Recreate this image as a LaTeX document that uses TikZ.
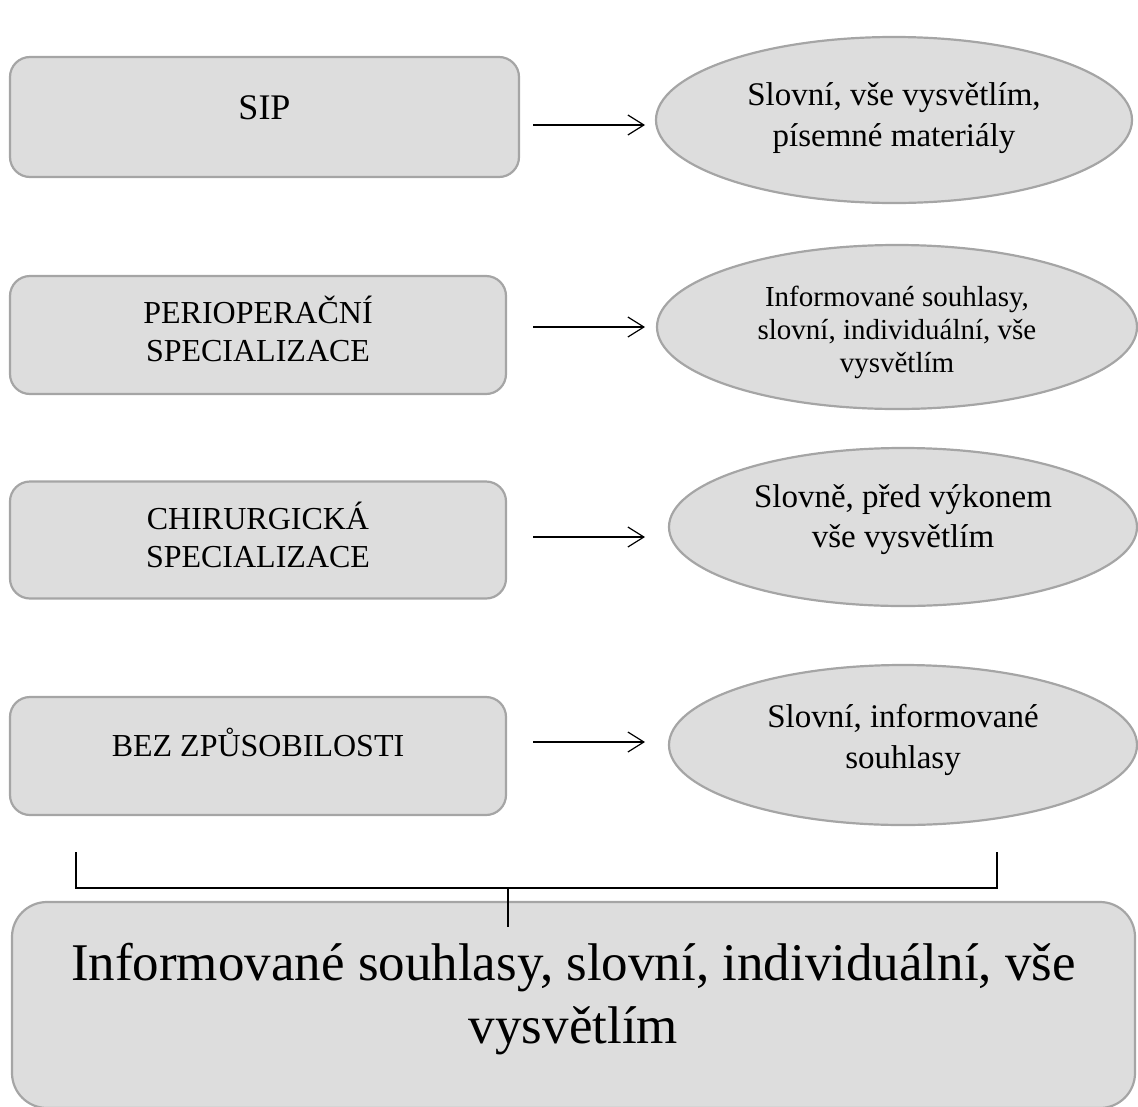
\documentclass[tikz,border=0pt]{standalone}
\usepackage{fontspec}
\setmainfont{Liberation Serif}
\usetikzlibrary{shapes.geometric,arrows.meta}
\definecolor{boxfill}{HTML}{DDDDDD}
\definecolor{boxline}{HTML}{A5A5A5}

\begin{document}
\begin{tikzpicture}[x=1pt,y=-1pt,
    box/.style={draw=boxline,fill=boxfill,line width=2.2pt,rounded corners=20pt,inner sep=0pt},
    oval/.style={ellipse,draw=boxline,fill=boxfill,line width=2.2pt,inner sep=0pt},
    txt/.style={align=center,inner sep=0pt},
    arr/.style={-{Straight Barb[length=16pt,width=20pt]},line width=1.2pt}]
    \useasboundingbox (0,0) rectangle (1138,1106);
    \clip (0,0) rectangle (1138,1106);
    % left column
    \node[box,minimum width=509pt,minimum height=120pt] (sip) at (264.5,117) {};
    \node[box,minimum width=496pt,minimum height=118pt] (peri) at (258,335) {};
    \node[box,minimum width=496pt,minimum height=117pt] (chir) at (258,540) {};
    \node[box,minimum width=496pt,minimum height=118pt] (bez) at (258,756) {};
    \node[txt,font=\fontsize{36}{41}\selectfont] (sip-t) at ([yshift=9pt]sip.center) {SIP};
    \node[txt,font=\fontsize{32}{38}\selectfont] (peri-t) at ([yshift=6pt]peri.center) {PERIOPERAČNÍ\\SPECIALIZACE};
    \node[txt,font=\fontsize{32}{38}\selectfont] (chir-t) at ([yshift=5pt]chir.center) {CHIRURGICKÁ\\SPECIALIZACE};
    \node[txt,font=\fontsize{32}{38}\selectfont] (bez-t) at ([yshift=14pt]bez.center) {BEZ ZPŮSOBILOSTI};
    % right column
    \node[oval,minimum width=476pt,minimum height=166pt] (slovni) at (894,120) {};
    \node[oval,minimum width=480pt,minimum height=164pt] (inform) at (897,327) {};
    \node[oval,minimum width=468pt,minimum height=158pt] (slovne) at (903,527) {};
    \node[oval,minimum width=468pt,minimum height=160pt] (souhl) at (903,745) {};
    \node[txt,font=\fontsize{33}{41}\selectfont] (slovni-t) at ([yshift=2pt]slovni.center) {Slovní, vše vysvětlím,\\písemné materiály};
    \node[txt,font=\fontsize{29}{33}\selectfont] (inform-t) at ([yshift=-5pt]inform.center) {Informované souhlasy,\\slovní, individuální, vše\\vysvětlím};
    \node[txt,font=\fontsize{33}{40}\selectfont] (slovne-t) at ([yshift=7pt]slovne.center) {Slovně, před výkonem\\vše vysvětlím};
    \node[txt,font=\fontsize{33}{41}\selectfont] (souhl-t) at ([yshift=5pt]souhl.center) {Slovní, informované\\souhlasy};
    \coordinate (a1) at (533,125); \coordinate (b1) at (645,125);
    \coordinate (a2) at (533,327); \coordinate (b2) at (645,327);
    \coordinate (a3) at (533,537); \coordinate (b3) at (645,537);
    \coordinate (a4) at (533,742); \coordinate (b4) at (645,742);
    \draw[arr] (a1) -- (b1);
    \draw[arr] (a2) -- (b2);
    \draw[arr] (a3) -- (b3);
    \draw[arr] (a4) -- (b4);
    % summary
    \node[box,rounded corners=35pt,minimum width=1123pt,minimum height=206pt] (vse) at (573.5,1005) {};
    \node[txt,font=\fontsize{53}{63}\selectfont] (vse-t) at ([yshift=6pt]vse.center) {Informované souhlasy, slovní, individuální, vše\\vysvětlím};
    \coordinate (L) at (76,852); \coordinate (R) at (997,852);
    \coordinate (M) at (508,888); \coordinate (Mv) at (508,927);
    \draw[line width=1.2pt] (L) |- (R |- M) -- (R);
    \draw[line width=1.2pt] (M) -- (Mv);
\end{tikzpicture}
\end{document}
